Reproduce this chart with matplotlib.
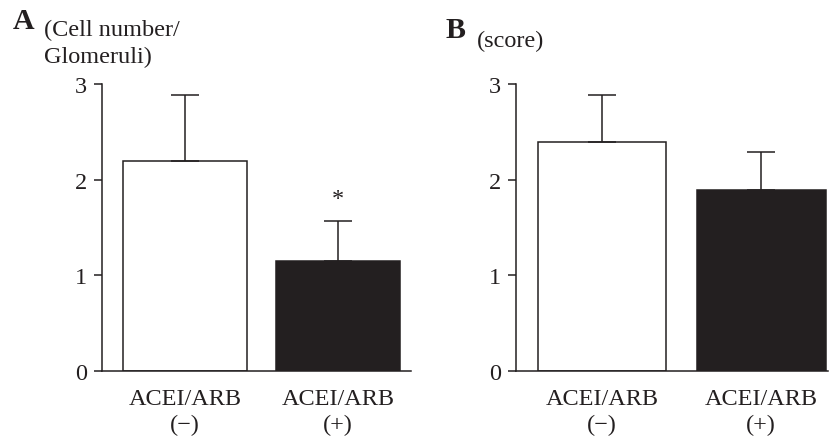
import matplotlib
matplotlib.use('Agg')
import matplotlib.pyplot as plt

plt.rcParams['font.family'] = ['Liberation Serif', 'DejaVu Serif']

groups = ['ACEI/ARB\n(\u2212)', 'ACEI/ARB\n(+)']
cells_mean = [2.19, 1.15]
cells_sd = [0.70, 0.42]
score_mean = [2.39, 1.89]
score_sd = [0.50, 0.40]
yticks = [0, 1, 2, 3]

ink = '#231f20'
fs = 17.5

fig = plt.figure(figsize=(8.34, 4.39), dpi=100)
axA = fig.add_axes([0.1223, 0.1526, 0.3705, 0.6538])
axB = fig.add_axes([0.6187, 0.1526, 0.374, 0.6538])


def panel(ax, means, sds, xlim):
    x = range(len(means))
    ax.bar(x, means, width=0.81, color=['white', ink], edgecolor=ink,
           linewidth=1.1, zorder=2)
    ax.errorbar(x, means, yerr=[[0] * len(sds), sds], fmt='none',
                ecolor=ink, elinewidth=1.1, capsize=10, capthick=1.1, zorder=3)
    ax.set_xlim(*xlim)
    ax.set_ylim(0, 3)
    ax.set_yticks(yticks)
    ax.set_xticks(list(x))
    ax.set_xticklabels(groups, fontsize=fs, color=ink, linespacing=1.35)
    ax.tick_params(axis='x', length=0, pad=12)
    ax.tick_params(axis='y', length=6, width=1.1, pad=5, labelsize=fs,
                   colors=ink, direction='out')
    for s in ['top', 'right']:
        ax.spines[s].set_visible(False)
    for s in ['left', 'bottom']:
        ax.spines[s].set_linewidth(1.1)
        ax.spines[s].set_color(ink)


panel(axA, cells_mean, cells_sd, (-0.542, 1.477))
panel(axB, score_mean, score_sd, (-0.541, 1.42))

axA.text(1, cells_mean[1] + cells_sd[1] + 0.12, '*', ha='center', va='bottom',
         fontsize=fs, color=ink)

fig.text(13 / 834, 1 - 29 / 439, 'A', fontsize=fs + 4, fontweight='bold',
         color=ink, va='baseline')
fig.text(44 / 834, 1 - 36 / 439, '(Cell number/', fontsize=fs,
         color=ink, va='baseline')
fig.text(44 / 834, 1 - 63 / 439, 'Glomeruli)', fontsize=fs,
         color=ink, va='baseline')
fig.text(445 / 834, 1 - 38 / 439, 'B', fontsize=fs + 4, fontweight='bold',
         color=ink, va='baseline')
fig.text(477 / 834, 1 - 47 / 439, '(score)', fontsize=fs, color=ink,
         va='baseline')

fig.savefig('out.png', dpi=100)
